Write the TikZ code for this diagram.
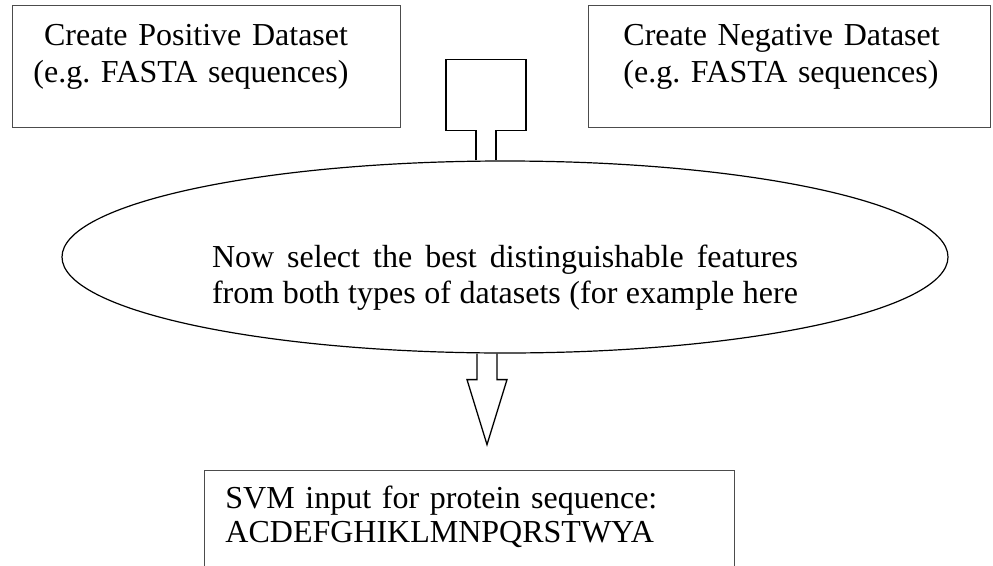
\documentclass[tikz,border=0pt]{standalone}
\usepackage{fontspec}
\setmainfont{Liberation Serif}
\frenchspacing
\usetikzlibrary{shapes.geometric}
\begin{document}
\begin{tikzpicture}[x=1pt,y=-1pt,
    databox/.style={draw=black!70,line width=0.9pt,rectangle,anchor=north west,
      inner xsep=21pt,inner ysep=0pt,align=left},
    blockarrow/.style={draw=black,line width=1.3pt,line join=miter},
    every node/.style={font=\fontsize{32}{37}\selectfont}]
  \useasboundingbox (0,0) rectangle (993,565);
  \clip (0,0) rectangle (993,565);
  \node[databox,text width=346pt,text height=40pt,text depth=82pt] (pos) at (12,5)
    {\ Create Positive Dataset\\(e.g. FASTA sequences)};
  \node[databox,inner xsep=35pt,text width=332pt,text height=40pt,text depth=82pt] (neg) at (588,5)
    {Create Negative Dataset\\(e.g. FASTA sequences)};
  \node[ellipse,draw,line width=1.2pt,minimum width=886pt,minimum height=192pt,inner sep=0pt,
    text height=40pt,text depth=20pt,font=\fontsize{32}{36}\selectfont] (select) at (505,257)
    {\parbox[t]{586pt}{\parfillskip=0pt Now select the best distinguishable features\linebreak
      from both types of datasets (for example here}};
  \node[databox,text width=488pt,text height=38pt,text depth=130pt,
    font=\fontsize{32}{34}\selectfont] (svm) at (204,470)
    {SVM input for protein sequence:\\ACDEFGHIKLMNPQRSTWYA};
  \draw[blockarrow,shift={(select.north)}] (-29,0) -- (-29,-30) -- (-59,-30) -- (-59,-101)
    -- (21,-101) -- (21,-30) -- (-9,-30) -- (-9,0);
  \draw[blockarrow,shift={(select.south)}] (-28,0) -- (-28,26) -- (-38,26) -- (-18,91)
    -- (2,26) -- (-8,26) -- (-8,0);
\end{tikzpicture}
\end{document}
